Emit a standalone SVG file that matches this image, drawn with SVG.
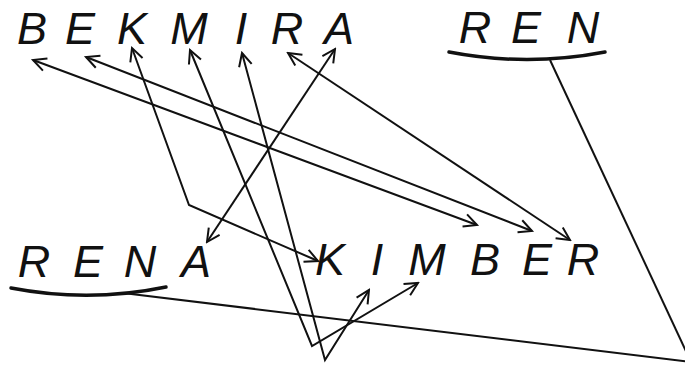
<svg xmlns="http://www.w3.org/2000/svg" width="685" height="365" viewBox="0 0 685 365">
<style>
.l{font-family:"Liberation Sans",Arial,sans-serif;font-style:italic;font-size:45px;fill:#111;text-anchor:middle}
.c{fill:none;stroke:#111;stroke-width:2;stroke-linejoin:miter}
.u{fill:none;stroke:#111;stroke-width:3.5;stroke-linecap:round}
</style>
<defs>
<marker id="ah" markerUnits="userSpaceOnUse" markerWidth="16" markerHeight="16" viewBox="-14 -8 16 16" refX="0" refY="0" orient="auto-start-reverse">
<path d="M-13,-6.5 L0,0 L-13,6.5" fill="none" stroke="#111" stroke-width="2"/>
</marker>
</defs>
<rect width="685" height="365" fill="#fff"/>
<g id="bekmira">
<text class="l" x="32" y="44">B</text>
<text class="l" x="80" y="44">E</text>
<text class="l" x="132" y="44">K</text>
<text class="l" x="189" y="44">M</text>
<text class="l" x="241" y="44">I</text>
<text class="l" x="287" y="44">R</text>
<text class="l" x="339" y="44">A</text>
</g>
<g id="ren">
<text class="l" x="475" y="43">R</text>
<text class="l" x="526" y="43">E</text>
<text class="l" x="583" y="43">N</text>
<path class="u" d="M449,52 Q527,67 605,52"/>
</g>
<g id="rena">
<text class="l" x="34" y="277">R</text>
<text class="l" x="88" y="277">E</text>
<text class="l" x="140" y="277">N</text>
<text class="l" x="196" y="277">A</text>
<path class="u" d="M11,288 Q89,303 166,287"/>
</g>
<g id="kimber">
<text class="l" x="330" y="275">K</text>
<text class="l" x="377" y="275">I</text>
<text class="l" x="427" y="275">M</text>
<text class="l" x="485" y="275">B</text>
<text class="l" x="537" y="275">E</text>
<text class="l" x="583" y="275">R</text>
</g>
<g id="connectors">
<path class="c" d="M33,60 L477,225" marker-start="url(#ah)" marker-end="url(#ah)"/>
<path class="c" d="M86,57 L532,231" marker-start="url(#ah)" marker-end="url(#ah)"/>
<path class="c" d="M288,53 L570,240" marker-start="url(#ah)" marker-end="url(#ah)"/>
<path class="c" d="M335,49 L207,242" marker-start="url(#ah)" marker-end="url(#ah)"/>
<path class="c" d="M132,48 L189,205 L318,261" marker-start="url(#ah)" marker-end="url(#ah)"/>
<path class="c" d="M190,50 L312,346 L418,283" marker-start="url(#ah)" marker-end="url(#ah)"/>
<path class="c" d="M242,53 L325,360 L369,290" marker-start="url(#ah)" marker-end="url(#ah)"/>
<path class="c" d="M123,293 L692,362"/>
<path class="c" d="M550,60 L692,364"/>
</g>
</svg>
